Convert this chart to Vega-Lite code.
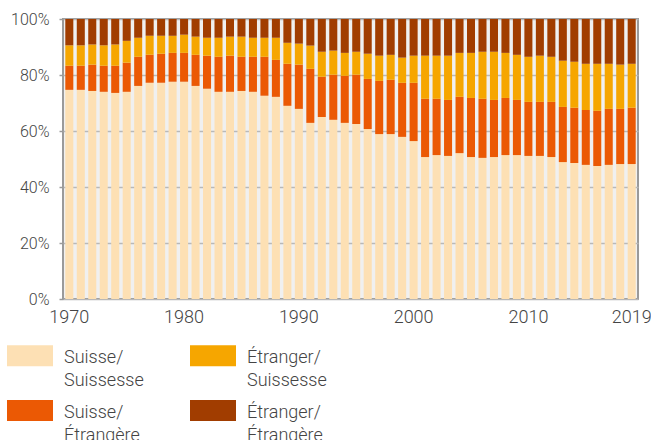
{
  "$schema": "https://vega.github.io/schema/vega-lite/v6.json",
  "width": 575,
  "height": 280,
  "autosize": {"type": "none"},
  "padding": {"left": 63, "top": 19, "right": 13, "bottom": 141},
  "config": {
    "font": "Roboto",
    "view": {"fill": "#f0f0f0", "stroke": "#9a9a9a", "strokeWidth": 2},
    "style": {"guide-label": {"lineHeight": 22.5}}
  },
  "data": {
    "values": [
      {"year": 1970, "Suisse/Suissesse": 74.7, "Suisse/Étrangère": 8.6, "Étranger/Suissesse": 7.3, "Étranger/Étrangère": 9.4},
      {"year": 1971, "Suisse/Suissesse": 74.7, "Suisse/Étrangère": 8.6, "Étranger/Suissesse": 7.3, "Étranger/Étrangère": 9.4},
      {"year": 1972, "Suisse/Suissesse": 74.3, "Suisse/Étrangère": 9.4, "Étranger/Suissesse": 7.2, "Étranger/Étrangère": 9.1},
      {"year": 1973, "Suisse/Suissesse": 74.0, "Suisse/Étrangère": 9.3, "Étranger/Suissesse": 7.3, "Étranger/Étrangère": 9.4},
      {"year": 1974, "Suisse/Suissesse": 73.6, "Suisse/Étrangère": 9.7, "Étranger/Suissesse": 7.6, "Étranger/Étrangère": 9.1},
      {"year": 1975, "Suisse/Suissesse": 74.0, "Suisse/Étrangère": 10.4, "Étranger/Suissesse": 7.8, "Étranger/Étrangère": 7.8},
      {"year": 1976, "Suisse/Suissesse": 76.1, "Suisse/Étrangère": 10.4, "Étranger/Suissesse": 6.8, "Étranger/Étrangère": 6.7},
      {"year": 1977, "Suisse/Suissesse": 77.2, "Suisse/Étrangère": 10.0, "Étranger/Suissesse": 6.8, "Étranger/Étrangère": 6.0},
      {"year": 1978, "Suisse/Suissesse": 77.2, "Suisse/Étrangère": 10.4, "Étranger/Suissesse": 6.4, "Étranger/Étrangère": 6.0},
      {"year": 1979, "Suisse/Suissesse": 77.6, "Suisse/Étrangère": 10.3, "Étranger/Suissesse": 6.1, "Étranger/Étrangère": 6.0},
      {"year": 1980, "Suisse/Suissesse": 77.6, "Suisse/Étrangère": 10.3, "Étranger/Suissesse": 6.5, "Étranger/Étrangère": 5.6},
      {"year": 1981, "Suisse/Suissesse": 76.1, "Suisse/Étrangère": 11.1, "Étranger/Suissesse": 6.5, "Étranger/Étrangère": 6.3},
      {"year": 1982, "Suisse/Suissesse": 75.1, "Suisse/Étrangère": 11.8, "Étranger/Suissesse": 6.4, "Étranger/Étrangère": 6.7},
      {"year": 1983, "Suisse/Suissesse": 74.0, "Suisse/Étrangère": 12.5, "Étranger/Suissesse": 6.8, "Étranger/Étrangère": 6.7},
      {"year": 1984, "Suisse/Suissesse": 74.0, "Suisse/Étrangère": 12.9, "Étranger/Suissesse": 6.8, "Étranger/Étrangère": 6.3},
      {"year": 1985, "Suisse/Suissesse": 74.3, "Suisse/Étrangère": 12.2, "Étranger/Suissesse": 7.2, "Étranger/Étrangère": 6.3},
      {"year": 1986, "Suisse/Suissesse": 74.0, "Suisse/Étrangère": 12.5, "Étranger/Suissesse": 6.8, "Étranger/Étrangère": 6.7},
      {"year": 1987, "Suisse/Suissesse": 72.6, "Suisse/Étrangère": 13.9, "Étranger/Suissesse": 6.8, "Étranger/Étrangère": 6.7},
      {"year": 1988, "Suisse/Suissesse": 72.2, "Suisse/Étrangère": 13.2, "Étranger/Suissesse": 7.9, "Étranger/Étrangère": 6.7},
      {"year": 1989, "Suisse/Suissesse": 69.0, "Suisse/Étrangère": 15.0, "Étranger/Suissesse": 7.5, "Étranger/Étrangère": 8.5},
      {"year": 1990, "Suisse/Suissesse": 67.9, "Suisse/Étrangère": 15.8, "Étranger/Suissesse": 7.5, "Étranger/Étrangère": 8.8},
      {"year": 1991, "Suisse/Suissesse": 62.9, "Suisse/Étrangère": 19.3, "Étranger/Suissesse": 8.3, "Étranger/Étrangère": 9.5},
      {"year": 1992, "Suisse/Suissesse": 65.0, "Suisse/Étrangère": 14.4, "Étranger/Suissesse": 8.9, "Étranger/Étrangère": 11.7},
      {"year": 1993, "Suisse/Suissesse": 64.0, "Suisse/Étrangère": 16.1, "Étranger/Suissesse": 8.6, "Étranger/Étrangère": 11.3},
      {"year": 1994, "Suisse/Suissesse": 62.9, "Suisse/Étrangère": 16.8, "Étranger/Suissesse": 8.2, "Étranger/Étrangère": 12.1},
      {"year": 1995, "Suisse/Suissesse": 62.5, "Suisse/Étrangère": 17.6, "Étranger/Suissesse": 8.2, "Étranger/Étrangère": 11.7},
      {"year": 1996, "Suisse/Suissesse": 60.7, "Suisse/Étrangère": 17.9, "Étranger/Suissesse": 9.0, "Étranger/Étrangère": 12.4},
      {"year": 1997, "Suisse/Suissesse": 58.9, "Suisse/Étrangère": 19.0, "Étranger/Suissesse": 9.0, "Étranger/Étrangère": 13.1},
      {"year": 1998, "Suisse/Suissesse": 58.9, "Suisse/Étrangère": 19.4, "Étranger/Suissesse": 8.9, "Étranger/Étrangère": 12.8},
      {"year": 1999, "Suisse/Suissesse": 57.9, "Suisse/Étrangère": 19.3, "Étranger/Suissesse": 9.0, "Étranger/Étrangère": 13.8},
      {"year": 2000, "Suisse/Suissesse": 56.4, "Suisse/Étrangère": 20.8, "Étranger/Suissesse": 9.7, "Étranger/Étrangère": 13.1},
      {"year": 2001, "Suisse/Suissesse": 50.7, "Suisse/Étrangère": 20.8, "Étranger/Suissesse": 15.4, "Étranger/Étrangère": 13.1},
      {"year": 2002, "Suisse/Suissesse": 51.4, "Suisse/Étrangère": 20.1, "Étranger/Suissesse": 15.4, "Étranger/Étrangère": 13.1},
      {"year": 2003, "Suisse/Suissesse": 51.1, "Suisse/Étrangère": 20.0, "Étranger/Suissesse": 15.8, "Étranger/Étrangère": 13.1},
      {"year": 2004, "Suisse/Suissesse": 52.1, "Suisse/Étrangère": 20.1, "Étranger/Suissesse": 15.7, "Étranger/Étrangère": 12.1},
      {"year": 2005, "Suisse/Suissesse": 50.7, "Suisse/Étrangère": 21.1, "Étranger/Suissesse": 16.1, "Étranger/Étrangère": 12.1},
      {"year": 2006, "Suisse/Suissesse": 50.4, "Suisse/Étrangère": 21.1, "Étranger/Suissesse": 16.8, "Étranger/Étrangère": 11.7},
      {"year": 2007, "Suisse/Suissesse": 50.7, "Suisse/Étrangère": 20.4, "Étranger/Suissesse": 17.2, "Étranger/Étrangère": 11.7},
      {"year": 2008, "Suisse/Suissesse": 51.4, "Suisse/Étrangère": 20.4, "Étranger/Suissesse": 16.1, "Étranger/Étrangère": 12.1},
      {"year": 2009, "Suisse/Suissesse": 51.4, "Suisse/Étrangère": 19.7, "Étranger/Suissesse": 16.1, "Étranger/Étrangère": 12.8},
      {"year": 2010, "Suisse/Suissesse": 51.1, "Suisse/Étrangère": 19.3, "Étranger/Suissesse": 16.1, "Étranger/Étrangère": 13.5},
      {"year": 2011, "Suisse/Suissesse": 51.1, "Suisse/Étrangère": 19.3, "Étranger/Suissesse": 16.5, "Étranger/Étrangère": 13.1},
      {"year": 2012, "Suisse/Suissesse": 50.7, "Suisse/Étrangère": 19.7, "Étranger/Suissesse": 16.1, "Étranger/Étrangère": 13.5},
      {"year": 2013, "Suisse/Suissesse": 48.9, "Suisse/Étrangère": 19.7, "Étranger/Suissesse": 16.5, "Étranger/Étrangère": 14.9},
      {"year": 2014, "Suisse/Suissesse": 48.6, "Suisse/Étrangère": 19.7, "Étranger/Suissesse": 16.4, "Étranger/Étrangère": 15.3},
      {"year": 2015, "Suisse/Suissesse": 47.9, "Suisse/Étrangère": 19.6, "Étranger/Suissesse": 16.5, "Étranger/Étrangère": 16.0},
      {"year": 2016, "Suisse/Suissesse": 47.5, "Suisse/Étrangère": 19.7, "Étranger/Suissesse": 16.8, "Étranger/Étrangère": 16.0},
      {"year": 2017, "Suisse/Suissesse": 47.9, "Suisse/Étrangère": 20.0, "Étranger/Suissesse": 16.1, "Étranger/Étrangère": 16.0},
      {"year": 2018, "Suisse/Suissesse": 48.2, "Suisse/Étrangère": 19.7, "Étranger/Suissesse": 15.8, "Étranger/Étrangère": 16.3},
      {"year": 2019, "Suisse/Suissesse": 48.2, "Suisse/Étrangère": 20.1, "Étranger/Suissesse": 15.7, "Étranger/Étrangère": 16.0}
    ]
  },
  "transform": [
    {"fold": ["Suisse/Suissesse", "Suisse/Étrangère", "Étranger/Suissesse", "Étranger/Étrangère"], "as": ["cat", "pct"]}
  ],
  "mark": {"type": "bar"},
  "encoding": {
    "x": {
      "field": "year",
      "type": "ordinal",
      "scale": {"paddingInner": 0.3, "paddingOuter": 0.2},
      "axis": {
        "values": [1970, 1980, 1990, 2000, 2010, 2019],
        "title": null,
        "labelAngle": 0,
        "ticks": false,
        "domain": false,
        "labelFontSize": 18,
        "labelPadding": 9,
        "labelColor": "#444444",
        "labelFontWeight": 300
      }
    },
    "y": {
      "field": "pct",
      "type": "quantitative",
      "stack": "zero",
      "scale": {"domain": [0, 100], "nice": false},
      "axis": {
        "values": [0, 20, 40, 60, 80, 100],
        "title": null,
        "labelExpr": "datum.value + '%'",
        "domain": false,
        "tickSize": 4,
        "tickColor": "#9a9a9a",
        "tickWidth": 1.5,
        "gridColor": "#b8b8b8",
        "gridWidth": 1.5,
        "labelFontSize": 16,
        "labelPadding": 10,
        "labelColor": "#444444",
        "labelFontWeight": 300
      }
    },
    "color": {
      "field": "cat",
      "type": "nominal",
      "scale": {
        "domain": ["Suisse/Suissesse", "Suisse/Étrangère", "Étranger/Suissesse", "Étranger/Étrangère"],
        "range": ["#fde0b4", "#eb5904", "#f6a600", "#a13d00"]
      },
      "legend": {
        "orient": "none",
        "legendX": -56,
        "legendY": 316,
        "title": null,
        "columns": 2,
        "padding": 0,
        "symbolType": "M-1,-0.567H1V0.347H-1Z",
        "symbolSize": 2116,
        "symbolStrokeWidth": 0,
        "labelFontSize": 18,
        "labelFontWeight": 300,
        "labelColor": "#444444",
        "labelOffset": 11,
        "labelLimit": 300,
        "labelExpr": "[split(datum.label, '/')[0] + '/', split(datum.label, '/')[1]]",
        "columnPadding": 46,
        "rowPadding": 0
      }
    },
    "order": {"field": "cat", "sort": "ascending"}
  }
}
